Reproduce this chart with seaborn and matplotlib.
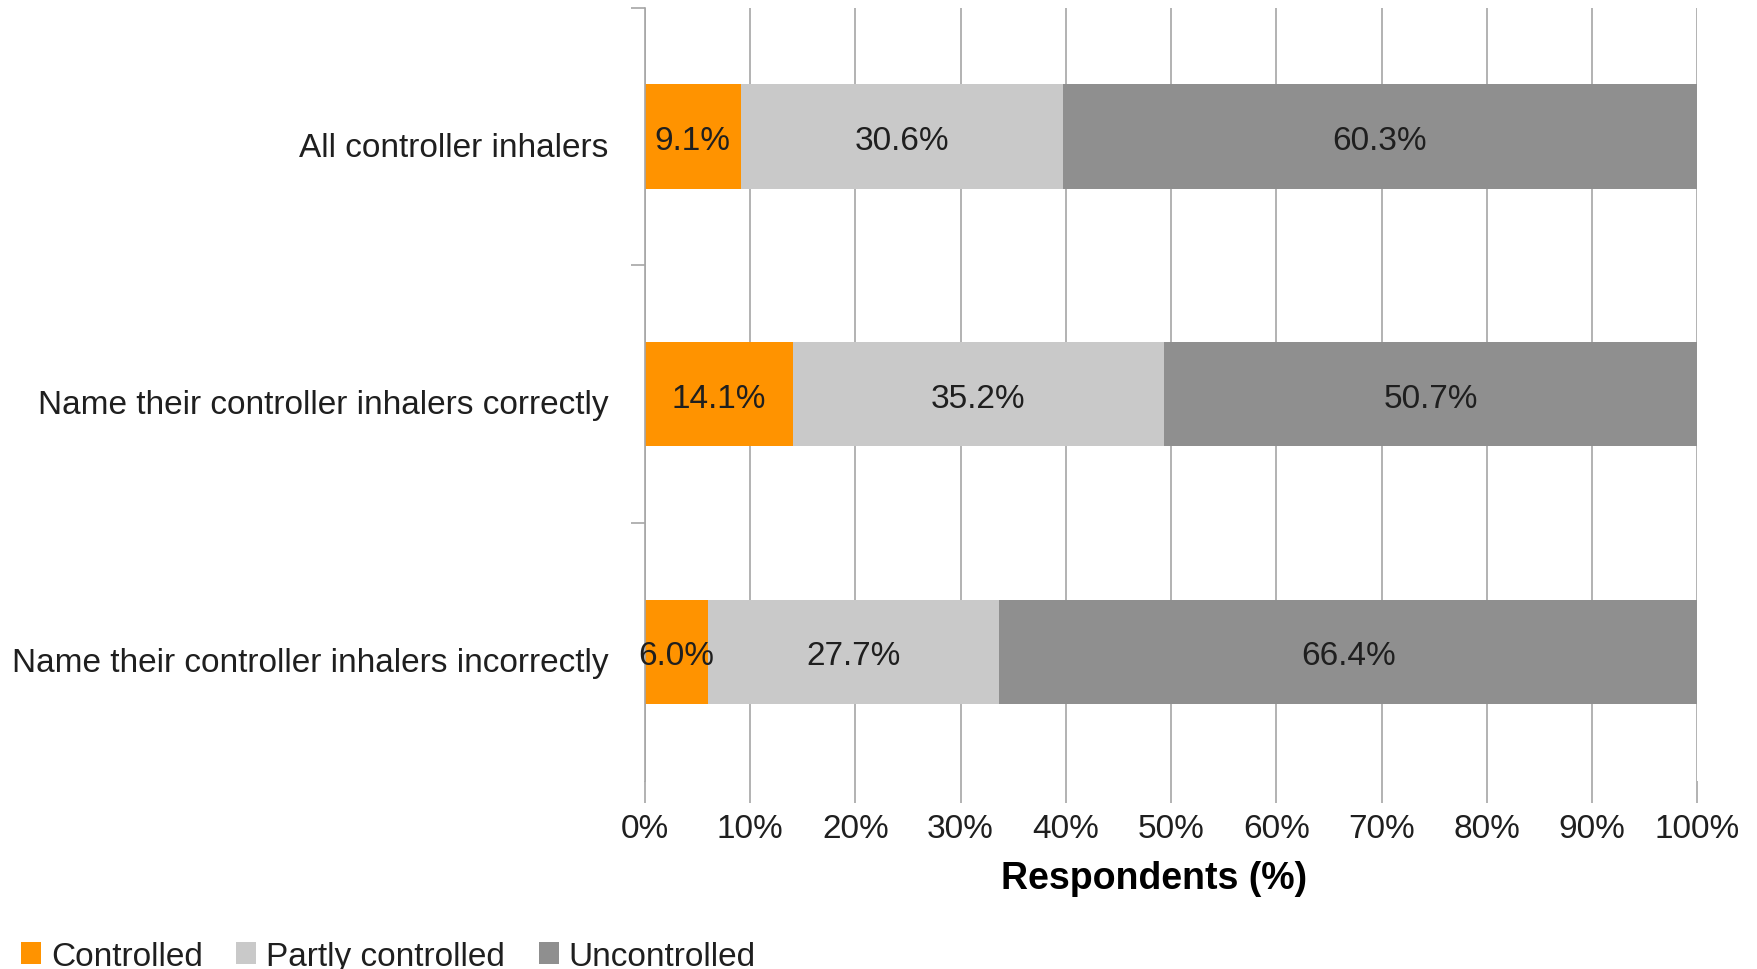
import matplotlib
matplotlib.use("Agg")
import matplotlib.pyplot as plt
import matplotlib.transforms as mtransforms
from matplotlib.patches import Patch
import numpy as np
import pandas as pd
import seaborn as sns

# Asthma control by inhaler-naming group (percent of respondents)
groups = [
    "All controller inhalers",
    "Name their controller inhalers correctly",
    "Name their controller inhalers incorrectly",
]
controlled = [9.1, 14.1, 6.0]
partly_controlled = [30.6, 35.2, 27.7]
uncontrolled = [60.3, 50.7, 66.4]

series_names = ["Controlled", "Partly controlled", "Uncontrolled"]
series_colors = ["#FF9300", "#C9C9C9", "#8F8F8F"]
x_ticks = list(range(0, 101, 10))
x_tick_labels = [f"{t}%" for t in x_ticks]

sns.set_theme(style="white")
plt.rcParams["font.family"] = ["Liberation Sans", "DejaVu Sans"]

df = pd.DataFrame({
    "group": groups,
    "Controlled": controlled,
    "Partly controlled": partly_controlled,
    "Uncontrolled": uncontrolled,
})
cum = df[series_names].cumsum(axis=1)

text_color = "#1f1f1f"
fig = plt.figure(figsize=(17.57, 9.70), dpi=100)
ax = fig.add_axes([0.367, 0.194, 0.599, 0.797])

grid_color = "#A6A6A6"
for xv in x_ticks:
    ax.axvline(xv, color=grid_color, lw=1.2, zorder=0)

# stacked bars: draw cumulative totals from the last series back to the first
for name, color in zip(reversed(series_names), reversed(series_colors)):
    sns.barplot(x=cum[name], y=df["group"], orient="h", color=color,
                width=0.405, saturation=1, ax=ax, zorder=2, linewidth=0)

for i, g in enumerate(groups):
    for name in series_names:
        val = df.loc[i, name]
        center = cum.loc[i, name] - val / 2
        ax.text(center, i + 0.015, f"{val:.1f}%", ha="center", va="center",
                fontsize=24, color=text_color, zorder=3)

ax.set_xlim(0, 100)
ax.set_ylim(2.5, -0.5)
ax.set_xticks(x_ticks)
ax.set_xticklabels(x_tick_labels, fontsize=24, color=text_color)
ax.tick_params(axis="x", length=16, width=1.2, color=grid_color, pad=7,
               bottom=True)
ax.set_yticks(range(len(groups)))
ax.set_yticklabels(groups, fontsize=24, color=text_color)
ax.tick_params(axis="y", which="major", length=0, pad=26)
shift = mtransforms.ScaledTranslation(0, -5 / 72, fig.dpi_scale_trans)
for lbl in ax.get_yticklabels():
    lbl.set_transform(lbl.get_transform() + shift)
ax.set_yticks([-0.5, 0.5, 1.5], minor=True)
ax.tick_params(axis="y", which="minor", length=10, width=1.2,
               color=grid_color, left=True)

for side in ["top", "right", "bottom"]:
    ax.spines[side].set_visible(False)
ax.spines["left"].set_color(grid_color)
ax.spines["left"].set_linewidth(1.2)

ax.set_xlabel("Respondents (%)", fontsize=27, fontweight="bold", labelpad=12,
              color="#000000")
ax.xaxis.label.set_x(0.484)
ax.set_ylabel("")

handles = [Patch(facecolor=c, edgecolor="none", label=n)
           for n, c in zip(series_names, series_colors)]
leg = fig.legend(handles=handles, loc="center left",
                 bbox_to_anchor=(0.012, 0.013), ncol=3, frameon=False,
                 fontsize=24, handlelength=0.6, handleheight=0.62,
                 handletextpad=0.3, columnspacing=1.0, borderpad=0,
                 borderaxespad=0)
for t in leg.get_texts():
    t.set_color(text_color)

fig.savefig("out.png", dpi=100)
